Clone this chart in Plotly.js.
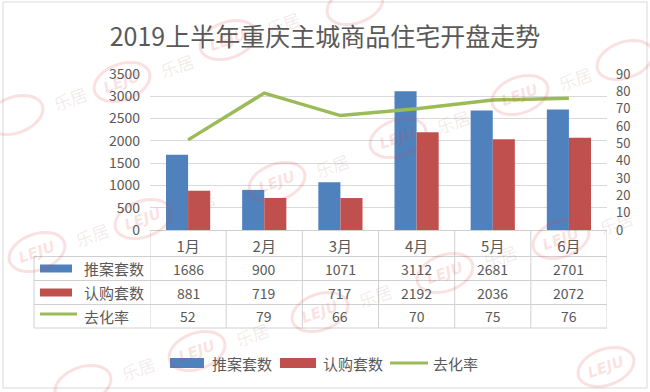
<!DOCTYPE html>
<html>
<head>
<meta charset="utf-8">
<script src="https://cdn.plot.ly/plotly-3.0.1.min.js"></script>
<style>html,body{margin:0;padding:0;background:#fff;}#chart{width:650px;height:392px;}</style>
</head>
<body>
<div id="chart"></div>
<script>
// ---- data ----
const months = ['1月', '2月', '3月', '4月', '5月', '6月'];
const launched = [1686, 900, 1071, 3112, 2681, 2701];   // 推案套数
const subscribed = [881, 719, 717, 2192, 2036, 2072];   // 认购套数
const absorption = [52, 79, 66, 70, 75, 76];             // 去化率
const seriesNames = ['推案套数', '认购套数', '去化率'];
const titleText = '2019上半年重庆主城商品住宅开盘走势';
const watermarkLogo = 'LEJU';
const watermarkText = '乐居';

// ---- styles / geometry ----
const BLUE = '#4F81BD', RED = '#C0504D', GREEN = '#9BBB59';
const TXT = '#595959', GRID = '#D9D9D9', TLINE = '#D0D0D0';
const FONT = 'Noto Sans CJK SC, sans-serif';
const L = 150, T = 74, W = 457, H = 156;
const px = x => (x - L) / W;
const py = y => (T + H - y) / H;

const traces = [
  {type: 'bar', x: months, y: launched, name: seriesNames[0], marker: {color: BLUE}, yaxis: 'y', hoverinfo: 'skip'},
  {type: 'bar', x: months, y: subscribed, name: seriesNames[1], marker: {color: RED}, yaxis: 'y', hoverinfo: 'skip'},
  {type: 'scatter', mode: 'lines', x: months, y: absorption, name: seriesNames[2], line: {color: GREEN, width: 3.5}, yaxis: 'y2', hoverinfo: 'skip'}
];

const shapes = [];
const annotations = [];

// outer frame
shapes.push({type: 'rect', xref: 'paper', yref: 'paper', x0: px(3), x1: px(647), y0: py(2), y1: py(388), line: {color: '#D9D9D9', width: 1}, layer: 'below'});

// table grid
const rowLines = [256.5, 280.5, 304.5, 328];
rowLines.forEach(y => {
  shapes.push({type: 'line', xref: 'paper', yref: 'paper', x0: px(34), x1: 1, y0: py(y), y1: py(y), line: {color: TLINE, width: 1}});
});
shapes.push({type: 'line', xref: 'paper', yref: 'paper', x0: px(34), x1: px(34), y0: py(256.5), y1: py(328), line: {color: TLINE, width: 1}});
for (let k = 0; k <= months.length; k++) {
  shapes.push({type: 'line', xref: 'x', yref: 'paper', x0: k - 0.5, x1: k - 0.5, y0: 0, y1: py(328), line: {color: TLINE, width: 1}});
}

// table rows
const rows = [launched, subscribed, absorption];
const rowCenters = [268.5, 292.5, 316];
const rowColors = [BLUE, RED, GREEN];
rows.forEach((vals, r) => {
  vals.forEach((v, c) => {
    annotations.push({xref: 'x', yref: 'paper', x: months[c], y: py(rowCenters[r]), text: String(v), showarrow: false, font: {family: FONT, size: 14, color: TXT}, xanchor: 'center', yanchor: 'middle'});
  });
  if (r < 2) {
    shapes.push({type: 'rect', xref: 'paper', yref: 'paper', x0: px(40), x1: px(72), y0: py(rowCenters[r] - 4), y1: py(rowCenters[r] + 4), fillcolor: rowColors[r], line: {width: 0}});
  } else {
    shapes.push({type: 'line', xref: 'paper', yref: 'paper', x0: px(40), x1: px(77), y0: py(rowCenters[r] - 2), y1: py(rowCenters[r] - 2), line: {color: rowColors[r], width: 3}});
  }
  annotations.push({xref: 'paper', yref: 'paper', x: px(82), y: py(rowCenters[r]), text: seriesNames[r], showarrow: false, font: {family: FONT, size: 15, color: TXT}, xanchor: 'left', yanchor: 'middle'});
});

// bottom legend
const legItems = [
  {kind: 'rect', x0: 170, x1: 204, tx: 210},
  {kind: 'rect', x0: 280, x1: 316, tx: 321},
  {kind: 'line', x0: 390, x1: 428, tx: 431}
];
legItems.forEach((it, i) => {
  if (it.kind === 'rect') {
    shapes.push({type: 'rect', xref: 'paper', yref: 'paper', x0: px(it.x0), x1: px(it.x1), y0: py(358), y1: py(368), fillcolor: rowColors[i], line: {width: 0}});
  } else {
    shapes.push({type: 'line', xref: 'paper', yref: 'paper', x0: px(it.x0), x1: px(it.x1), y0: py(363), y1: py(363), line: {color: rowColors[i], width: 3}});
  }
  annotations.push({xref: 'paper', yref: 'paper', x: px(it.tx), y: py(363), text: seriesNames[i], showarrow: false, font: {family: FONT, size: 15, color: TXT}, xanchor: 'left', yanchor: 'middle'});
});

// faint watermark (decoration)
const wmSpots = [[15,115],[122,82],[228,40],[355,5],[37,252],[143,219],[277,182],[398,138],[520,95],[625,60],[83,385],[197,351],[320,312],[445,273],[561,239],[606,367]];
function ellipsePath(a, b, deg) {
  const t = deg * Math.PI / 180, pts = [];
  for (let i = 0; i < 36; i++) {
    const f = i / 36 * 2 * Math.PI;
    const ex = a * Math.cos(f), ey = b * Math.sin(f);
    pts.push([ex * Math.cos(t) - ey * Math.sin(t), ex * Math.sin(t) + ey * Math.cos(t)]);
  }
  return 'M' + pts.map(p => p[0].toFixed(1) + ',' + p[1].toFixed(1)).join('L') + 'Z';
}
const inside = (x, y, mx, my) => x - mx >= 4 && x + mx <= 646 && y - my >= 4 && y + my <= 388;
const wmPath = ellipsePath(29, 18, 20);
wmSpots.forEach(([cx, cy]) => {
  shapes.push({type: 'path', xref: 'paper', yref: 'paper', xsizemode: 'pixel', ysizemode: 'pixel', xanchor: px(cx), yanchor: py(cy), path: wmPath, line: {color: 'rgba(225,70,70,0.16)', width: 3}, layer: 'above'});
  if (inside(cx, cy, 24, 14)) {
    annotations.push({xref: 'paper', yref: 'paper', x: px(cx), y: py(cy), text: '<b><i>' + watermarkLogo + '</i></b>', textangle: -20, showarrow: false, font: {family: 'DejaVu Sans, sans-serif', size: 15, color: 'rgba(225,70,70,0.16)'}, xanchor: 'center', yanchor: 'middle'});
  }
  const tx = cx + 55, ty = cy - 17;
  if (inside(tx, ty, 22, 16)) {
    annotations.push({xref: 'paper', yref: 'paper', x: px(tx), y: py(ty), text: watermarkText, textangle: -20, showarrow: false, font: {family: FONT, size: 17, color: 'rgba(170,110,110,0.14)'}, xanchor: 'center', yanchor: 'middle'});
  }
});

const layout = {
  width: 650, height: 392,
  margin: {l: L, r: 650 - L - W, t: T, b: 392 - T - H, pad: 0},
  paper_bgcolor: '#fff', plot_bgcolor: 'rgba(0,0,0,0)',
  font: {family: FONT, color: TXT},
  title: {text: titleText, font: {family: FONT, size: 25, color: TXT}, x: 0.5, xanchor: 'center', y: 1 - 37 / 392, yanchor: 'middle'},
  showlegend: false,
  barmode: 'group', bargap: 0.42, bargroupgap: 0,
  xaxis: {type: 'category', range: [-0.5, 5.5], showgrid: false, zeroline: false, showline: true, linecolor: TLINE, linewidth: 1, ticks: '', tickfont: {family: FONT, size: 15, color: TXT}, ticklabelstandoff: 3, fixedrange: true},
  yaxis: {range: [0, 3500], dtick: 500, showgrid: true, gridcolor: GRID, gridwidth: 1, zeroline: false, showline: false, ticks: '', tickfont: {family: FONT, size: 14, color: TXT}, ticklabelstandoff: 9},
  yaxis2: {range: [0, 90], dtick: 10, overlaying: 'y', side: 'right', showgrid: false, zeroline: false, showline: false, ticks: '', tickfont: {family: FONT, size: 13, color: TXT}, ticklabelstandoff: 8},
  shapes: shapes,
  annotations: annotations
};

Plotly.newPlot('chart', traces, layout, {displayModeBar: false, staticPlot: true});
</script>
</body>
</html>
